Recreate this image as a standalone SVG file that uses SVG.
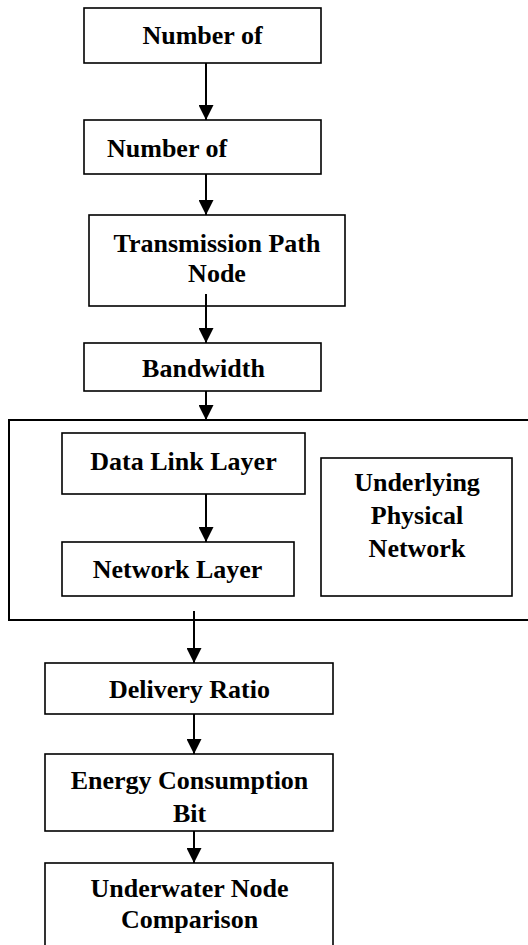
<svg xmlns="http://www.w3.org/2000/svg" width="528" height="945" viewBox="0 0 528 945">
<style>
.box{fill:#fff;stroke:#000;stroke-width:1.6}
.cont{fill:#fff;stroke:#000;stroke-width:2}
text{font-family:'Liberation Serif','Times New Roman',Times,serif;font-weight:bold;font-size:26px;fill:#000;text-anchor:middle}
.tl{text-anchor:start}
.arr{stroke:#000;stroke-width:2;fill:none;marker-end:url(#ah)}
</style>
<defs>
<marker id="ah" viewBox="0 0 15 15" refX="15" refY="7.5" markerWidth="15" markerHeight="15" orient="auto" markerUnits="userSpaceOnUse">
<path d="M0,0 L15,7.5 L0,15 z" fill="#000"/>
</marker>
</defs>
<rect width="528" height="945" fill="#fff"/>
<g id="container">
<rect class="cont" x="9" y="420" width="535" height="200"/>
</g>
<g id="n1" font-family="Liberation Serif, serif">
<rect class="box" x="84" y="8" width="237" height="55"/>
<text x="202.5" y="44">Number of</text>
</g>
<g id="n2">
<rect class="box" x="84" y="120" width="237" height="54"/>
<text class="tl" x="107" y="157">Number of</text>
</g>
<g id="n3">
<rect class="box" x="89" y="215" width="256" height="91"/>
<text x="217" y="252">Transmission Path</text>
<text x="217" y="282">Node</text>
</g>
<g id="n4">
<rect class="box" x="84" y="343" width="237" height="48"/>
<text x="203.5" y="377">Bandwidth</text>
</g>
<g id="n5">
<rect class="box" x="62" y="433" width="243" height="61"/>
<text x="183.5" y="470">Data Link Layer</text>
</g>
<g id="n6">
<rect class="box" x="62" y="542" width="232" height="54"/>
<text x="177.5" y="578">Network Layer</text>
</g>
<g id="n7">
<rect class="box" x="321" y="458" width="191" height="138"/>
<text x="417" y="491">Underlying</text>
<text x="417" y="524">Physical</text>
<text x="417" y="557">Network</text>
</g>
<g id="n8">
<rect class="box" x="45" y="663" width="288" height="51"/>
<text x="189.5" y="698">Delivery Ratio</text>
</g>
<g id="n9">
<rect class="box" x="45" y="754" width="288" height="77"/>
<text x="189.5" y="789">Energy Consumption</text>
<text x="189.5" y="822">Bit</text>
</g>
<g id="n10">
<rect class="box" x="45" y="863" width="288" height="100"/>
<text x="189.5" y="897">Underwater Node</text>
<text x="189.5" y="928">Comparison</text>
</g>
<g id="connectors">
<line class="arr" x1="206" y1="63" x2="206" y2="120"/>
<line class="arr" x1="206" y1="174" x2="206" y2="215"/>
<line class="arr" x1="206" y1="294" x2="206" y2="343"/>
<line class="arr" x1="206" y1="391" x2="206" y2="420"/>
<line class="arr" x1="206" y1="494" x2="206" y2="542"/>
<line class="arr" x1="194" y1="611" x2="194" y2="663"/>
<line class="arr" x1="194" y1="714" x2="194" y2="754"/>
<line class="arr" x1="194" y1="831" x2="194" y2="863"/>
</g>
</svg>
